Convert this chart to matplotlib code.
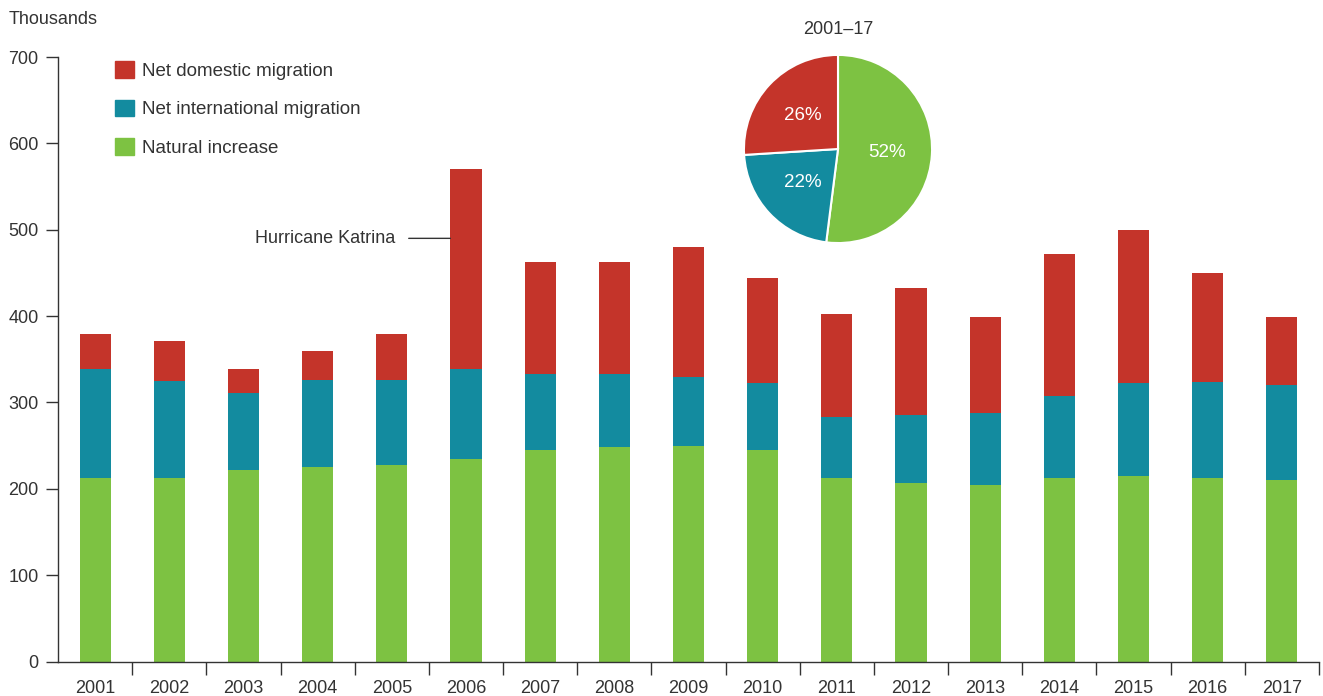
import matplotlib
matplotlib.use("Agg")
import matplotlib.pyplot as plt
from matplotlib.patches import Patch

years = ["2001", "2002", "2003", "2004", "2005", "2006", "2007", "2008", "2009",
         "2010", "2011", "2012", "2013", "2014", "2015", "2016", "2017"]
natural = [212, 212, 222, 225, 228, 235, 245, 248, 250, 245, 212, 207, 204, 212, 215, 212, 210]
international = [127, 113, 89, 101, 98, 104, 88, 85, 79, 78, 71, 78, 84, 96, 108, 112, 110]
domestic = [40, 46, 28, 34, 53, 231, 130, 130, 151, 121, 119, 148, 111, 164, 177, 126, 79]

pie_labels = ["Natural increase", "Net international migration", "Net domestic migration"]
pie_values = [52, 22, 26]
pie_title = "2001\u201317"
y_ticks = [0, 100, 200, 300, 400, 500, 600, 700]
katrina_value = 490

c_red = "#C4342A"
c_teal = "#138B9F"
c_green = "#7DC242"
txt = "#333333"

plt.rcParams["font.family"] = ["Liberation Sans", "DejaVu Sans"]
plt.rcParams["font.size"] = 13

fig = plt.figure(figsize=(13.23, 6.96), dpi=100)
ax = fig.add_axes([58 / 1323, 1 - 661.5 / 696, (1319 - 58) / 1323, (661.5 - 57) / 696])

x = list(range(len(years)))
w = 0.42
bottom2 = natural
bottom3 = [a + b for a, b in zip(natural, international)]
ax.bar(x, natural, w, color=c_green, label="Natural increase")
ax.bar(x, international, w, bottom=bottom2, color=c_teal, label="Net international migration")
ax.bar(x, domestic, w, bottom=bottom3, color=c_red, label="Net domestic migration")

ax.set_xlim(-0.5, len(years) - 0.5)
ax.set_ylim(0, 700)
ax.set_yticks(y_ticks)
ax.set_xticks(x)
ax.set_xticklabels(years)
ax.set_xticks([i - 0.5 for i in range(1, len(years) + 1)], minor=True)
ax.tick_params(axis="x", which="major", length=0, pad=13, colors=txt, labelsize=13)
ax.tick_params(axis="x", which="minor", length=9, width=1, color=txt, direction="out")
ax.tick_params(axis="y", length=9, width=1, color=txt, labelcolor=txt, pad=5, labelsize=13)
for s in ["top", "right"]:
    ax.spines[s].set_visible(False)
for s in ["left", "bottom"]:
    ax.spines[s].set_color(txt)
    ax.spines[s].set_linewidth(1)

fig.text(9 / 1323, 1 - 19 / 696, "Thousands", color=txt, fontsize=13, va="center", ha="left")

handles = [Patch(color=c_red), Patch(color=c_teal), Patch(color=c_green)]
ax.legend(handles, ["Net domestic migration", "Net international migration", "Natural increase"],
          loc="upper left", bbox_to_anchor=(57 / 1261, 1 - 4 / 604), frameon=False,
          handlelength=1.0, handleheight=1.0, handletextpad=0.42, labelspacing=1.05,
          borderaxespad=0, borderpad=0, labelcolor=txt, fontsize=13.5)

ax.annotate("Hurricane Katrina", xy=(5 - w / 2, katrina_value), xycoords="data",
            xytext=(-40, 0), textcoords="offset points", ha="right", va="center",
            color=txt, fontsize=13,
            arrowprops=dict(arrowstyle="-", color=txt, lw=1, shrinkA=8, shrinkB=0))

pax = fig.add_axes([743 / 1323, 1 - 244 / 696, 190 / 1323, 190 / 696])
wedges, texts = pax.pie(pie_values, colors=[c_green, c_teal, c_red], startangle=90,
                        counterclock=False, labels=[f"{v}%" for v in pie_values],
                        labeldistance=0.52,
                        wedgeprops=dict(edgecolor="white", linewidth=1.5))
for t in texts:
    t.set_color("white")
    t.set_fontsize(13.5)
    t.set_ha("center")
    t.set_va("center")
pax.set_xlim(-1.01, 1.01)
pax.set_ylim(-1.01, 1.01)
pax.set_aspect("equal")
fig.text(838 / 1323, 1 - 30 / 696, pie_title, ha="center", va="center", color=txt, fontsize=13)

fig.savefig("out.png", dpi=100)
